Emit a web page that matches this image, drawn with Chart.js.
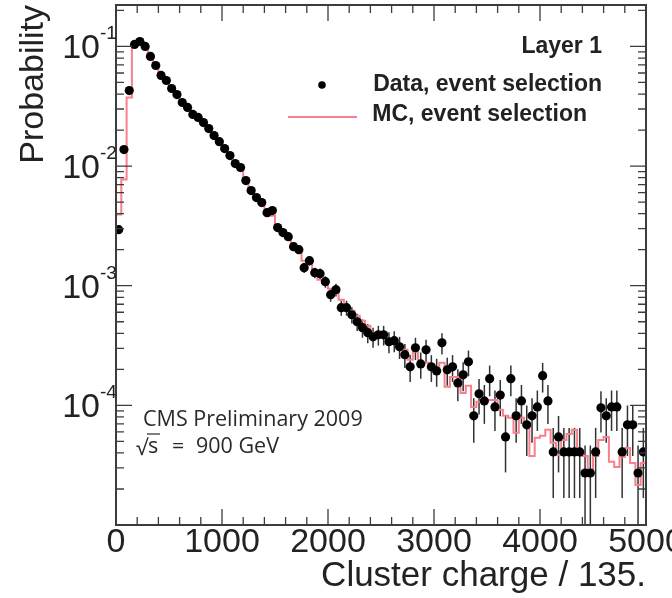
<!DOCTYPE html>
<html><head><meta charset="utf-8">
<script src="https://cdn.jsdelivr.net/npm/chart.js@4.4.1/dist/chart.umd.min.js"></script>
<style>html,body{margin:0;padding:0;background:#fff;}#wrap{width:672px;height:598px;}</style>
</head><body><div id="wrap"><canvas id="c" width="672" height="598"></canvas></div>
<script>
// ---- data ----
const binWidth = 50;
const xMin = 0, xMax = 5000;
const yMin = 1e-5, yMax = 0.222;
const xTickLabels = [0, 1000, 2000, 3000, 4000, 5000];
const yDecades = [-1, -2, -3, -4];

const dataValues = [
 2.94e-3, 0.01374, 0.0428, 0.104, 0.110, 0.100, 0.0825, 0.0693, 0.0572, 0.0519,
 0.0445, 0.0396, 0.0340, 0.0309, 0.0270, 0.0255, 0.0231, 0.0206, 0.0180, 0.0160,
 0.0140, 0.01224, 0.0105, 9.71e-3, 7.56e-3, 6.24e-3, 5.45e-3, 4.95e-3, 4.08e-3, 4.25e-3,
 3.06e-3, 2.78e-3, 2.57e-3, 2.12e-3, 2.00e-3, 1.416e-3, 1.62e-3, 1.285e-3, 1.26e-3, 1.08e-3,
 8.41e-4, 9.26e-4, 6.55e-4, 6.55e-4, 5.72e-4, 5.0e-4, 4.46e-4, 4.05e-4, 3.74e-4, 3.89e-4,
 3.89e-4, 3.40e-4, 3.47e-4, 3.09e-4, 2.65e-4, 2.10e-4, 3.03e-4, 2.22e-4, 2.91e-4, 2.10e-4,
 1.94e-4, 3.33e-4, 1.98e-4, 2.10e-4, 1.54e-4, 1.80e-4, 2.31e-4, 8.17e-5, 1.25e-4, 1.09e-4,
 1.67e-4, 9.71e-5, 1.22e-4, 5.45e-5, 1.67e-4, 8.17e-5, 1.09e-4, 6.87e-5, 8.17e-5, 9.71e-5,
 1.77e-4, 1.09e-4, 4.08e-5, 5.45e-5, 4.08e-5, 4.08e-5, 4.08e-5, 4.08e-5, 2.72e-5, 2.72e-5,
 4.08e-5, 9.53e-5, 8.17e-5, 9.71e-5, 9.71e-5, 4.08e-5, 6.87e-5, 6.87e-5, 2.72e-5, 4.08e-5
];
const dataErrors = [
 2.0e-4, 4.3e-4, 7.6e-4, 1.19e-3, 1.22e-3, 1.17e-3, 1.06e-3, 9.7e-4, 8.8e-4, 8.4e-4,
 7.8e-4, 7.3e-4, 6.8e-4, 6.5e-4, 6.1e-4, 5.9e-4, 5.6e-4, 5.3e-4, 4.9e-4, 4.7e-4,
 4.4e-4, 4.1e-4, 3.8e-4, 3.6e-4, 3.2e-4, 2.9e-4, 2.7e-4, 2.6e-4, 2.4e-4, 2.4e-4,
 2.0e-4, 1.9e-4, 1.9e-4, 1.7e-4, 1.6e-4, 1.4e-4, 1.5e-4, 1.3e-4, 1.3e-4, 1.2e-4,
 1.07e-4, 1.12e-4, 9.4e-5, 9.4e-5, 8.8e-5, 8.2e-5, 7.8e-5, 7.4e-5, 7.1e-5, 7.3e-5,
 7.3e-5, 6.8e-5, 6.9e-5, 6.5e-5, 6.0e-5, 5.3e-5, 6.4e-5, 5.5e-5, 6.3e-5, 5.3e-5,
 5.1e-5, 6.7e-5, 5.2e-5, 5.3e-5, 4.6e-5, 4.9e-5, 5.6e-5, 3.3e-5, 4.1e-5, 3.9e-5,
 4.8e-5, 3.6e-5, 4.1e-5, 2.7e-5, 4.8e-5, 3.3e-5, 3.9e-5, 3.1e-5, 3.3e-5, 3.6e-5,
 4.9e-5, 3.9e-5, 2.4e-5, 2.7e-5, 2.4e-5, 2.4e-5, 2.4e-5, 2.4e-5, 1.9e-5, 1.9e-5,
 2.4e-5, 3.6e-5, 3.3e-5, 3.6e-5, 3.6e-5, 2.4e-5, 3.1e-5, 3.1e-5, 1.9e-5, 2.4e-5
];
const mcValues = [
 3.93e-3, 7.71e-3, 0.0374, 0.100, 0.1144, 0.1019, 0.0841, 0.0693, 0.0594, 0.0519,
 0.0454, 0.0396, 0.0347, 0.0309, 0.0275, 0.0250, 0.0227, 0.0202, 0.0180, 0.0160,
 0.0140, 0.01224, 0.01091, 9.35e-3, 7.71e-3, 6.48e-3, 5.66e-3, 4.86e-3, 4.24e-3, 3.85e-3,
 3.18e-3, 2.83e-3, 2.52e-3, 2.25e-3, 1.96e-3, 1.62e-3, 1.53e-3, 1.26e-3, 1.12e-3, 1.04e-3,
 9.44e-4, 8.74e-4, 7.64e-4, 6.81e-4, 6.18e-4, 5.61e-4, 5.09e-4, 4.63e-4, 4.05e-4, 3.82e-4,
 3.67e-4, 3.47e-4, 3.27e-4, 3.09e-4, 2.91e-4, 2.40e-4, 2.80e-4, 2.27e-4, 2.27e-4, 1.98e-4,
 1.87e-4, 2.27e-4, 1.43e-4, 1.73e-4, 1.73e-4, 1.27e-4, 1.46e-4, 9.71e-5, 1.07e-4, 1.05e-4,
 1.11e-4, 1.11e-4, 9.17e-5, 8.17e-5, 7.86e-5, 5.89e-5, 7.86e-5, 6.61e-5, 3.78e-5, 5.35e-5,
 5.56e-5, 6.24e-5, 4.86e-5, 3.85e-5, 5.14e-5, 5.77e-5, 6.24e-5, 4.01e-5, 3.78e-5, 2.72e-5,
 3.78e-5, 5.14e-5, 5.45e-5, 3.37e-5, 3.05e-5, 3.71e-5, 4.41e-5, 3.30e-5, 2.16e-5, 3.30e-5
];

const labelData = 'Data, event selection';
const labelMC = 'MC, event selection';
const labelLayer = 'Layer 1';
const textCMS = 'CMS Preliminary 2009';
const textEnergy = '900 GeV';
const titleX = 'Cluster charge / 135.';
const titleY = 'Probability';

// ---- build library data ----
const dataPts = dataValues.map((v, i) => ({x: (i + 0.5) * binWidth, y: v}));
const mcPts = [{x: xMin, y: yMin}].concat(
  mcValues.map((v, i) => ({x: i * binWidth, y: v})),
  [{x: xMax, y: mcValues[mcValues.length - 1]}]
);

const MC_COLOR = '#f7808c';
const FRAME = '#3c3c3c';
const TXT = '#222';

const errorBars = {
  id: 'errorBars',
  beforeDatasetsDraw(chart) {
    const {ctx, chartArea: a, scales: {x, y}} = chart;
    ctx.save();
    ctx.beginPath(); ctx.rect(a.left, a.top, a.right - a.left, a.bottom - a.top); ctx.clip();
    ctx.strokeStyle = '#333'; ctx.lineWidth = 1.5;
    dataValues.forEach((v, i) => {
      const e = dataErrors[i];
      const px = x.getPixelForValue((i + 0.5) * binWidth);
      const lo = v - e;
      const yTop = y.getPixelForValue(v + e);
      const yBot = lo > 0 ? y.getPixelForValue(lo) : a.bottom + 5;
      ctx.beginPath(); ctx.moveTo(px, yTop); ctx.lineTo(px, Math.min(yBot, a.bottom + 5)); ctx.stroke();
    });
    ctx.restore();
  }
};

const frameAndText = {
  id: 'frameAndText',
  afterDraw(chart) {
    const {ctx, chartArea: a, scales: {x, y}} = chart;
    ctx.save();
    // frame
    ctx.strokeStyle = FRAME; ctx.lineWidth = 2;
    ctx.strokeRect(a.left, a.top, a.right - a.left, a.bottom - a.top);
    // x ticks
    ctx.lineWidth = 1.3;
    for (let v = xMin; v <= xMax; v += 200) {
      const px = x.getPixelForValue(v);
      const len = (v % 1000 === 0) ? 16 : 8;
      ctx.beginPath();
      ctx.moveTo(px, a.bottom); ctx.lineTo(px, a.bottom - len);
      ctx.moveTo(px, a.top); ctx.lineTo(px, a.top + len);
      ctx.stroke();
    }
    // y ticks (log)
    for (let d = -5; d <= -1; d++) {
      for (let k = 1; k <= 9; k++) {
        const v = k * Math.pow(10, d);
        if (v < yMin * 0.999 || v > yMax) continue;
        const py = y.getPixelForValue(v);
        const len = k === 1 ? 16 : 8;
        ctx.beginPath();
        ctx.moveTo(a.left, py); ctx.lineTo(a.left + len, py);
        ctx.moveTo(a.right, py); ctx.lineTo(a.right - len, py);
        ctx.stroke();
      }
    }
    // y labels with superscript
    ctx.fillStyle = TXT;
    yDecades.forEach(d => {
      const py = y.getPixelForValue(Math.pow(10, d));
      ctx.font = '34px "Liberation Sans", Arial, sans-serif';
      ctx.textAlign = 'right'; ctx.textBaseline = 'alphabetic';
      ctx.fillText('10', 100, py + 12);
      ctx.font = '19px "Liberation Sans", Arial, sans-serif';
      ctx.textAlign = 'left';
      ctx.fillText(String(d), 100, py - 7);
    });
    // legend
    ctx.font = 'bold 23px "Liberation Sans", Arial, sans-serif';
    ctx.textAlign = 'right'; ctx.textBaseline = 'middle';
    ctx.fillText(labelLayer, 602, 47);
    ctx.fillText(labelData, 602, 85);
    ctx.fillText(labelMC, 587, 115);
    ctx.beginPath(); ctx.arc(322, 85, 3.8, 0, Math.PI * 2); ctx.fillStyle = '#000'; ctx.fill();
    ctx.strokeStyle = MC_COLOR; ctx.lineWidth = 2;
    ctx.beginPath(); ctx.moveTo(288, 117); ctx.lineTo(357, 117); ctx.stroke();
    // CMS text
    ctx.fillStyle = '#2a2a2a';
    ctx.font = '21.5px "Open Sans", "Noto Sans", sans-serif';
    ctx.textAlign = 'left'; ctx.textBaseline = 'alphabetic';
    ctx.fillText(textCMS, 143, 426);
    ctx.fillText('\u221A', 136, 455);
    ctx.fillText('s', 148, 453);
    ctx.fillText('=', 172, 453);
    ctx.fillText(textEnergy, 196, 453);
    ctx.strokeStyle = '#2a2a2a'; ctx.lineWidth = 1.2;
    ctx.beginPath(); ctx.moveTo(147, 434); ctx.lineTo(160, 434); ctx.stroke();
    ctx.restore();
  }
};

new Chart(document.getElementById('c'), {
  type: 'scatter',
  data: {
    datasets: [
      {label: labelData, data: dataPts, showLine: false, pointRadius: 4.6, pointHoverRadius: 4.6,
       pointBackgroundColor: '#000', pointBorderColor: '#000', pointBorderWidth: 0, order: 0},
      {type: 'line', label: labelMC, data: mcPts, stepped: 'before', borderColor: MC_COLOR,
       borderWidth: 2, pointRadius: 0, fill: false, tension: 0, order: 1}
    ]
  },
  options: {
    responsive: false, animation: false, devicePixelRatio: 1,
    layout: {padding: {left: 0, right: 26, top: 5, bottom: 0}},
    plugins: {legend: {display: false}, tooltip: {enabled: false}},
    scales: {
      x: {
        type: 'linear', min: xMin, max: xMax,
        grid: {display: false, drawTicks: false}, border: {display: false},
        afterBuildTicks(s) { s.ticks = xTickLabels.map(v => ({value: v})); },
        ticks: {maxRotation: 0, autoSkip: false, padding: -3, color: TXT,
                callback: v => String(v),
                font: {family: '"Liberation Sans", Arial, sans-serif', size: 34}},
        title: {display: true, text: titleX, align: 'end', color: TXT,
                font: {family: '"Liberation Sans", Arial, sans-serif', size: 35}, padding: {top: 0, bottom: 1}},
        afterFit(s) { s.height = 73; s.paddingLeft = 0; s.paddingRight = 0; }
      },
      y: {
        type: 'logarithmic', min: yMin, max: yMax,
        grid: {display: false, drawTicks: false}, border: {display: false},
        ticks: {display: false},
        title: {display: true, text: titleY, align: 'end', color: TXT,
                font: {family: '"Liberation Sans", Arial, sans-serif', size: 34}, padding: {top: 13, bottom: 0}},
        afterFit(s) { s.width = 116; }
      }
    }
  },
  plugins: [errorBars, frameAndText]
});
</script></body></html>
